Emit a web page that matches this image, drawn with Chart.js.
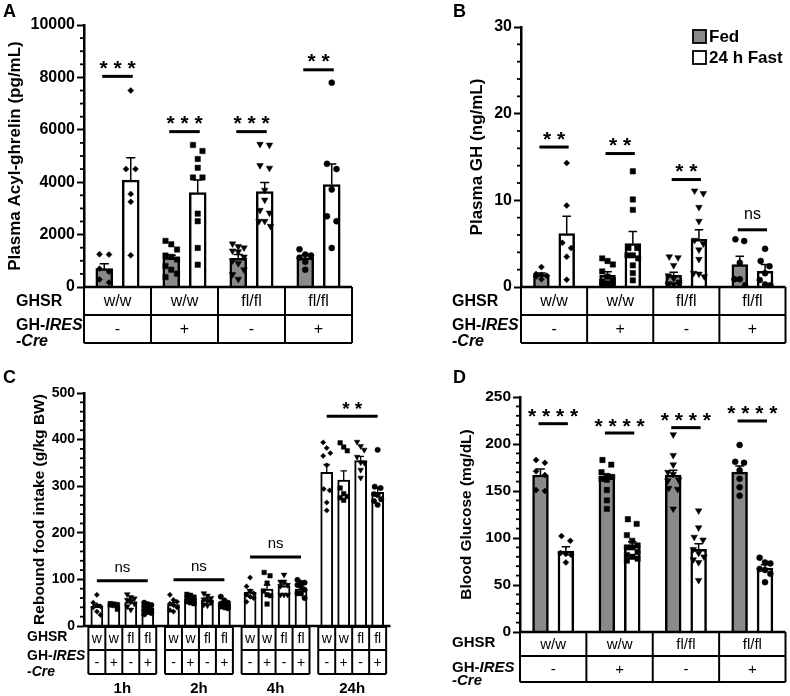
<!DOCTYPE html>
<html><head><meta charset="utf-8">
<script src="https://cdn.jsdelivr.net/npm/chart.js@4.4.0/dist/chart.umd.min.js"></script>
<style>
html,body{margin:0;padding:0;background:#fff}
body{width:790px;height:696px;position:relative;overflow:hidden}
canvas{position:absolute}
</style></head><body>
<canvas id="cA" width="395" height="348" style="left:0;top:0"></canvas>
<canvas id="cB" width="395" height="348" style="left:395px;top:0"></canvas>
<canvas id="cC" width="395" height="348" style="left:0;top:348px"></canvas>
<canvas id="cD" width="395" height="348" style="left:395px;top:348px"></canvas>
<script>
const FONT = "'Liberation Sans', Arial, Helvetica, sans-serif";

// ---------------- DATA ----------------
const ghsrGroups = ['w/w', 'w/w', 'fl/fl', 'fl/fl'];
const creGroups = ['-', '+', '-', '+'];
const ghsrShort = ['w', 'w', 'fl', 'fl'];
const timePoints = ['1h', '2h', '4h', '24h'];
const seriesNames = ['Fed', '24 h Fast'];
const rowLabelGHSR = 'GHSR';
const rowLabelCre = ['GH-', 'IRES', '-Cre'];

// Panel A: plasma acyl-ghrelin (pg/mL)
const ghrelinFedMean = [700, 1120, 1090, 1110];
const ghrelinFedSem = [190, 90, 150, 100];
const ghrelinFastMean = [4080, 3600, 3640, 3910];
const ghrelinFastSem = [850, 480, 350, 780];
const ghrelinFedPts = [
  [1250, 1240, 700, 580, 290, 170],
  [1760, 1630, 1430, 1200, 1150, 1050, 800, 660, 510, 380],
  [1650, 1550, 1500, 1380, 1350, 1150, 1000, 900, 660, 480, 300],
  [1440, 1240, 1200, 1120, 960, 660]];
const ghrelinFastPts = [
  [7500, 4500, 4500, 3550, 3250, 1210],
  [5420, 5190, 4885, 4550, 4180, 4180, 2800, 2510, 1490, 850],
  [5450, 5420, 4640, 4540, 3700, 3320, 2930, 2830, 2510, 2510, 2320],
  [7800, 4700, 4500, 3720, 2700, 2510, 1490]];
const ghrelinSig = ['***', '***', '***', '**'];
const ghrelinSigY = [8040, 5930, 5930, 8290];

// Panel B: plasma GH (ng/mL)
const ghFedMean = [1.42, 1.35, 1.35, 2.58];
const ghFedSem = [0.2, 0.4, 0.35, 0.96];
const ghFastMean = [6.15, 5.0, 5.5, 1.8];
const ghFastSem = [2.0, 1.4, 1.1, 0.8];
const ghFedPts = [
  [2.3, 1.5, 1.4, 1.3, 1.2, 0.9],
  [3.3, 3.0, 2.6, 1.8, 1.2, 0.8, 0.6, 0.4, 0.3, 0.2],
  [3.5, 3.4, 2.5, 1.3, 1.0, 0.6, 0.4, 0.3, 0.3, 0.2],
  [5.5, 5.3, 2.8, 0.9, 0.9, 0.2]];
const ghFastPts = [
  [14.3, 9.4, 5.1, 4.5, 3.5, 0.85],
  [13.35, 10.1, 8.9, 4.5, 4.5, 3.65, 3.65, 3.3, 2.5, 1.6, 0.77],
  [11.1, 10.8, 9.2, 7.6, 5.4, 5.0, 4.3, 3.2, 1.6, 1.5, 1.2],
  [4.4, 3.0, 2.4, 1.6, 0.8, 0.3, 0.2]];
const ghSig = ['**', '**', '**', 'ns'];
const ghSigY = [16.15, 15.4, 12.4, 6.6];

// Panel C: rebound food intake (g/kg BW), per genotype over time
const intakeMean = [[42, 46, 73, 330], [45, 58, 79, 313], [52, 56, 86, 355], [38, 47, 79, 287]];
const intakeSem = [[4, 4, 5, 17], [2, 3, 9, 20], [4, 4, 6, 9], [3, 3, 4, 10]];
const intakePts = [
  [[67, 50, 45, 42, 40, 31, 24], [67, 56, 52, 48, 45, 40, 34, 31], [104, 85, 75, 70, 67, 63, 60, 52], [394, 382, 371, 365, 345, 294, 291, 265, 248]],
  [[48, 47, 46, 45, 44, 36], [68, 66, 62, 60, 58, 55, 52, 50, 48], [115, 108, 92, 75, 67, 65, 47], [393, 384, 376, 296, 284, 278, 275, 270]],
  [[68, 62, 59, 56, 52, 48, 42, 35], [70, 65, 60, 57, 54, 50, 46, 44], [110, 95, 95, 88, 86, 67, 67, 67], [395, 386, 378, 363, 351, 350, 335, 318]],
  [[50, 47, 45, 42, 38, 35, 33, 30, 28, 25], [63, 55, 50, 48, 45, 43, 42, 40, 38], [99, 93, 93, 88, 85, 78, 70, 70, 60], [378, 299, 296, 283, 281, 272, 268, 260]]];
const intakeSig = ['ns', 'ns', 'ns', '**'];
const intakeSigY = [97, 99, 148, 450];

// Panel D: blood glucose (mg/dL)
const glucFedMean = [167, 164, 167, 170];
const glucFedSem = [6.5, 3.5, 5, 6.5];
const glucFastMean = [86, 92, 88, 68];
const glucFastSem = [4.6, 4, 6, 3.5];
const glucFedPts = [
  [183, 180, 171, 167, 151, 150],
  [183, 178, 170, 166, 165, 163, 162, 151, 140, 131],
  [210, 188, 178, 170, 168, 162, 161, 153, 152, 131],
  [199, 181, 180, 172, 163, 154, 145]];
const glucFastPts = [
  [102, 97, 84, 83, 82, 74],
  [120, 115, 103, 97, 92, 90, 90, 85, 82, 80, 78, 76],
  [129, 111, 101, 98, 88, 84, 80, 77, 74, 55],
  [79, 74, 73, 67, 66, 62, 53]];
const glucSig = ['****', '****', '****', '****'];
const glucSigY = [221.6, 211.7, 217.4, 224.5];

// ---------------- STYLES ----------------
const FED_FILL = '#8a8a8a';
const SHAPES = ['rectRot', 'rect', 'triangle', 'circle'];
const ROTS = [0, 0, 180, 0];

function spread(vals, thr, barU) {
  const idx = vals.map((v, i) => i).sort((a, b) => vals[b] - vals[a]);
  const off = vals.map(() => 0);
  let cl = [];
  const flush = () => {
    const m = cl.length, cols = Math.min(m, 3);
    const h = cols === 2 ? 0.28 * barU : 0.34 * barU;
    cl.forEach((k, j) => { off[k] = m === 1 ? 0 : ((j % cols) - (cols - 1) / 2) * (cols === 2 ? 2 * h : h); });
    cl = [];
  };
  idx.forEach(k => { if (cl.length && vals[cl[cl.length - 1]] - vals[k] > thr) flush(); cl.push(k); });
  flush();
  return off;
}

const CFG = {};

function line(ctx, x0, y0, x1, y1) { ctx.beginPath(); ctx.moveTo(x0, y0); ctx.lineTo(x1, y1); ctx.stroke(); }

const decor = {
  id: 'decor',
  afterDatasetsDraw(chart) {
    const P = CFG[chart.canvas.id]; const ctx = chart.ctx; const y = chart.scales.y;
    ctx.save(); ctx.strokeStyle = '#000'; ctx.lineWidth = P.errW;
    P.bars.forEach((b, d) => {
      chart.getDatasetMeta(d).data.forEach((el, i) => {
        const top = y.getPixelForValue(b.mean[i] + b.sem[i]);
        const hw = el.width * 0.27;
        ctx.beginPath(); ctx.moveTo(el.x, el.y); ctx.lineTo(el.x, top);
        ctx.moveTo(el.x - hw, top); ctx.lineTo(el.x + hw, top); ctx.stroke();
      });
    });
    ctx.restore();
  },
  afterDraw(chart) {
    const P = CFG[chart.canvas.id]; const ctx = chart.ctx; const y = chart.scales.y; const xs = chart.scales.x;
    const ca = chart.chartArea; const nb = P.bars.length; const n = P.cats.length;
    const slotU = P.cp / nb;
    ctx.save();
    ctx.strokeStyle = '#000'; ctx.fillStyle = '#000';
    // minor ticks
    ctx.lineWidth = 1.8;
    for (let k = 0; k * P.minor <= P.yMax + 1e-9; k++) {
      const v = k * P.minor;
      if (Math.abs(v / P.major - Math.round(v / P.major)) < 1e-6) continue;
      const py = y.getPixelForValue(v);
      line(ctx, ca.left - 4, py, ca.left, py);
    }
    // significance
    P.sig.forEach((s, i) => {
      const py = y.getPixelForValue(P.sigY[i]);
      const x0 = xs.getPixelForValue(i - (nb - 1) / 2 * slotU - P.sigExt);
      const x1 = xs.getPixelForValue(i + (nb - 1) / 2 * slotU + P.sigExt);
      ctx.lineWidth = P.sigW; line(ctx, x0, py, x1, py);
      const cx = (x0 + x1) / 2;
      ctx.textAlign = 'center'; ctx.textBaseline = 'alphabetic';
      if (s === 'ns') { ctx.font = `${P.nsSize}px ${FONT}`; ctx.fillText(s, cx, py - P.nsGap); }
      else { ctx.font = `bold ${P.starSize}px ${FONT}`; ctx.fillText(s.split('').join(' '), cx, py - P.starGap); }
    });
    // table
    ctx.lineWidth = 2;
    const T = ca.bottom, r1 = T + P.rowH[0], r2 = r1 + P.rowH[1];
    const cw = (ca.right - ca.left) / n;
    ctx.textAlign = 'center'; ctx.textBaseline = 'middle';
    if (P.kind === 'pair') {
      ctx.lineWidth = 2.5; line(ctx, ca.left - 1, T, ca.right, T); ctx.lineWidth = 2;
      [r1, r2].forEach(yy => line(ctx, ca.left, yy, ca.right, yy));
      for (let k = 0; k <= n; k++) { const xx = ca.left + k * cw; line(ctx, xx, T, xx, r2); }
      ctx.font = `${P.cellSize}px ${FONT}`;
      for (let i = 0; i < n; i++) {
        const cx = ca.left + (i + 0.5) * cw;
        ctx.fillText(ghsrGroups[i], cx, (T + r1) / 2 + 1);
        ctx.fillText(creGroups[i], cx, (r1 + r2) / 2 + 1);
      }
    } else {
      ctx.lineWidth = 2.5; line(ctx, ca.left - 1, T, ca.right, T); ctx.lineWidth = 2;
      const slotPx = cw * slotU;
      for (let i = 0; i < n; i++) {
        const c = xs.getPixelForValue(i);
        const gl = c - slotPx * nb / 2, gr = c + slotPx * nb / 2;
        [T + 1, r1, r2].forEach(yy => line(ctx, gl, yy, gr, yy));
        for (let k = 0; k <= nb; k++) line(ctx, gl + k * slotPx, T, gl + k * slotPx, r2);
        ctx.font = `${P.cellSize}px ${FONT}`;
        for (let d = 0; d < nb; d++) {
          const cx = gl + (d + 0.5) * slotPx;
          ctx.fillText(ghsrShort[d], cx, (T + r1) / 2 + 1);
          ctx.fillText(creGroups[d], cx, (r1 + r2) / 2 + 1);
        }
        ctx.font = `bold ${P.timeSize}px ${FONT}`;
        ctx.fillText(P.cats[i], c, P.timeY);
      }
    }
    // row labels
    ctx.textAlign = 'left'; ctx.textBaseline = 'middle';
    ctx.font = `bold ${P.rowLabelSize}px ${FONT}`;
    ctx.fillText(rowLabelGHSR, P.rowLabelX, P.rowLabelY[0]);
    ctx.fillText(rowLabelCre[0], P.rowLabelX, P.rowLabelY[1]);
    const w = ctx.measureText(rowLabelCre[0]).width;
    ctx.font = `italic bold ${P.rowLabelSize}px ${FONT}`;
    ctx.fillText(rowLabelCre[1], P.rowLabelX + w, P.rowLabelY[1]);
    ctx.fillText(rowLabelCre[2], P.rowLabelX, P.rowLabelY[2]);
    // y title
    ctx.save();
    ctx.translate(P.titleX, (ca.top + ca.bottom) / 2); ctx.rotate(-Math.PI / 2);
    ctx.textAlign = 'center'; ctx.textBaseline = 'middle';
    ctx.font = `bold ${P.titleSize}px ${FONT}`;
    ctx.fillText(P.title, 0, 0);
    ctx.restore();
    // panel letter
    ctx.textAlign = 'left'; ctx.textBaseline = 'alphabetic';
    ctx.font = `bold 18px ${FONT}`;
    ctx.fillText(P.letter, P.letterPos[0], P.letterPos[1]);
    // legend
    if (P.legend) {
      const [lx, ly] = P.legend;
      P.bars.forEach((b, d) => {
        const sy = ly + d * 21;
        ctx.fillStyle = b.fill; ctx.fillRect(lx, sy - 6, 13, 13);
        ctx.lineWidth = 1.8; ctx.strokeStyle = '#000'; ctx.strokeRect(lx, sy - 6, 13, 13);
        ctx.fillStyle = '#000'; ctx.font = `bold 17px ${FONT}`; ctx.textBaseline = 'middle';
        ctx.fillText(b.name, lx + 16, sy + 1);
      });
    }
    ctx.restore();
  }
};

function buildPanel(id, P) {
  CFG[id] = P;
  const nb = P.bars.length, n = P.cats.length;
  const slotU = P.cp / nb;
  const cwPx = (P.area.right - P.area.left) / n;
  const datasets = [];
  P.bars.forEach((b, d) => datasets.push({
    type: 'bar', label: b.name,
    data: b.mean.map((m, i) => ({ x: i + (d - (nb - 1) / 2) * slotU, y: m })),
    backgroundColor: b.fill, borderColor: '#000',
    borderWidth: P.barBorder, borderSkipped: 'start', grouped: false,
    barThickness: cwPx * slotU * P.bp, order: 2 }));
  P.bars.forEach((b, d) => {
    b.pts.forEach((vals, i) => {
      const center = i + (d - (nb - 1) / 2) * slotU;
      const offs = spread(vals, P.thr, slotU * P.bp);
      const s = P.styleBy === 'cat' ? i : d;
      datasets.push({
        type: 'scatter', label: b.name + ' ' + P.cats[i],
        data: vals.map((v, k) => ({ x: center + offs[k], y: v })), order: 1,
        pointStyle: SHAPES[s], pointRotation: ROTS[s], pointRadius: P.radii[s],
        pointBackgroundColor: '#000', pointBorderColor: '#000', pointBorderWidth: 0.5, showLine: false });
    });
  });
  new Chart(document.getElementById(id), {
    type: 'bar',
    data: { datasets },
    options: {
      responsive: false, animation: false, events: [],
      layout: { padding: { left: 0, top: P.area.top, right: 395 - P.area.right, bottom: 348 - P.area.bottom } },
      plugins: { legend: { display: false }, tooltip: { enabled: false } },
      scales: {
        x: { type: 'linear', display: false, offset: false, min: -0.5, max: n - 0.5, grid: { offset: false } },
        y: {
          type: 'linear', position: 'left', min: 0, max: P.yMax,
          afterFit(s) { s.width = P.area.left; },
          ticks: { stepSize: P.major, color: '#000', padding: 2, callback: v => String(v),
                   font: { family: FONT, size: P.tickSize, weight: 'bold' } },
          grid: { display: true, drawOnChartArea: false, drawTicks: true, tickLength: 7, tickWidth: 2, tickColor: '#000' },
          border: { display: true, color: '#000', width: 2.5 }
        }
      }
    },
    plugins: [decor]
  });
}

const pairCommon = { kind: 'pair', styleBy: 'cat', radii: [3, 3.8, 3.8, 3], barBorder: 2.5, errW: 1.5,
  sigW: 3, sigExt: 0.03, starSize: 21, starGap: 1.5, nsSize: 16, nsGap: 11 };

buildPanel('cA', Object.assign({}, pairCommon, {
  cats: ghsrGroups.map((g, i) => g + ' ' + creGroups[i]),
  bars: [{ name: seriesNames[0], mean: ghrelinFedMean, sem: ghrelinFedSem, pts: ghrelinFedPts, fill: FED_FILL },
         { name: seriesNames[1], mean: ghrelinFastMean, sem: ghrelinFastSem, pts: ghrelinFastPts, fill: '#fff' }],
  sig: ghrelinSig, sigY: ghrelinSigY,
  area: { left: 84, right: 352, top: 25, bottom: 287 }, yMax: 10000, major: 2000, minor: 500, tickSize: 16,
  title: 'Plasma Acyl-ghrelin (pg/mL)', titleX: 15, titleSize: 17, cp: 0.79, bp: 0.64, thr: 250,
  rowH: [28, 28], cellSize: 16, rowLabelX: 16, rowLabelY: [302, 326, 342], rowLabelSize: 16,
  letter: 'A', letterPos: [3, 17]
}));

buildPanel('cB', Object.assign({}, pairCommon, {
  cats: ghsrGroups.map((g, i) => g + ' ' + creGroups[i]),
  bars: [{ name: seriesNames[0], mean: ghFedMean, sem: ghFedSem, pts: ghFedPts, fill: FED_FILL },
         { name: seriesNames[1], mean: ghFastMean, sem: ghFastSem, pts: ghFastPts, fill: '#fff' }],
  sig: ghSig, sigY: ghSigY,
  area: { left: 126, right: 393, top: 27, bottom: 287 }, yMax: 30, major: 10, minor: 2, tickSize: 16,
  title: 'Plasma GH (ng/mL)', titleX: 82, titleSize: 17, cp: 0.765, bp: 0.62, thr: 0.7,
  rowH: [28, 28], cellSize: 16, rowLabelX: 57, rowLabelY: [302, 326, 342], rowLabelSize: 16,
  letter: 'B', letterPos: [58, 17], legend: [298, 36]
}));

buildPanel('cC', {
  kind: 'group', styleBy: 'set', radii: [2.6, 3.2, 3.3, 2.7], barBorder: 2, errW: 1.3,
  sigW: 3, sigExt: 0, starSize: 19, starGap: 1.5, nsSize: 15, nsGap: 9,
  cats: timePoints,
  bars: intakeMean.map((m, d) => ({ name: ghsrShort[d] + creGroups[d], mean: m, sem: intakeSem[d], pts: intakePts[d], fill: '#fff' })),
  sig: intakeSig, sigY: intakeSigY,
  area: { left: 84, right: 436, top: 45, bottom: 278 }, yMax: 500, major: 100, minor: 20, tickSize: 14,
  title: 'Rebound food intake (g/kg BW)', titleX: 40, titleSize: 15.5, cp: 0.886, bp: 0.62, thr: 12,
  rowH: [24, 24], cellSize: 14, rowLabelX: 27, rowLabelY: [289, 308, 324], rowLabelSize: 14,
  timeY: 341, timeSize: 15,
  letter: 'C', letterPos: [3, 35]
});

buildPanel('cD', Object.assign({}, pairCommon, {
  cats: ghsrGroups.map((g, i) => g + ' ' + creGroups[i]),
  bars: [{ name: seriesNames[0], mean: glucFedMean, sem: glucFedSem, pts: glucFedPts, fill: FED_FILL },
         { name: seriesNames[1], mean: glucFastMean, sem: glucFastSem, pts: glucFastPts, fill: '#fff' }],
  sig: glucSig, sigY: glucSigY, starGap: 0.5,
  area: { left: 125, right: 392, top: 49, bottom: 284 }, yMax: 250, major: 50, minor: 10, tickSize: 15.5,
  title: 'Blood Glucose (mg/dL)', titleX: 72, titleSize: 15.5, cp: 0.765, bp: 0.62, thr: 6,
  rowH: [24, 26], cellSize: 15, rowLabelX: 57, rowLabelY: [295, 320, 333], rowLabelSize: 15,
  letter: 'D', letterPos: [58, 35]
}));
</script>
</body></html>
